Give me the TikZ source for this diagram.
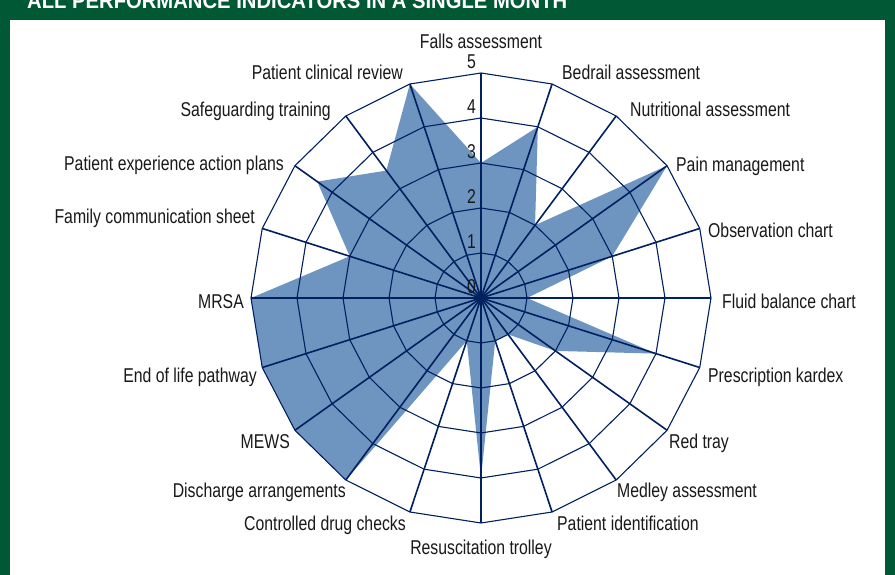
\documentclass[tikz,border=0pt]{standalone}
\usepackage{fontspec}
\setmainfont{Liberation Sans}[FakeStretch=0.79]
\newfontfamily\titlefont{Liberation Sans}[FakeStretch=0.92]
\definecolor{navy}{RGB}{0,32,96}
\definecolor{radarblue}{RGB}{110,148,192}
\definecolor{hdrgreen}{RGB}{0,88,52}
\definecolor{txtgrey}{RGB}{25,25,25}

\begin{document}
\begin{tikzpicture}[x=1pt,y=1pt,
  spoke/.style={navy,line width=1.6pt},
  ring/.style={navy,line width=1.1pt,line join=round},
  lab/.style={inner sep=0pt,text=txtgrey,font=\fontsize{20}{24}\selectfont},
  num/.style={lab,anchor=south east}]
\useasboundingbox (-481,-277) rectangle (414,298);
\fill[white] (-481,-277) rectangle (414,298);
\fill[hdrgreen] (-481,278) rectangle (414,298);
\fill[hdrgreen] (-481,-277) rectangle (-471,298);
\fill[hdrgreen] (404,-277) rectangle (414,298);
\node[anchor=base west,inner sep=0pt,text=white,font=\titlefont\bfseries\fontsize{22}{26}\selectfont] (title) at (-454,289.5) {ALL PERFORMANCE INDICATORS IN A SINGLE MONTH};
\begin{scope}[x=46pt,y=45pt]
  \fill[radarblue] (90:3) \foreach \v [count=\i] in {4,2,5,3,1,4,2,1,1,4,1,5,5,5,5,3,4.4,3.5,5} {-- (90-18*\i:\v)} -- cycle;
  \foreach \k in {1,...,5}
  \draw[ring] (90:\k) \foreach \i in {1,...,19} {-- (90-18*\i:\k)} -- cycle;
  \foreach \i in {0,...,19}
  \draw[spoke] (0,0) -- (90-18*\i:5);
  \fill[navy] (0,0) circle (4.5pt);
\end{scope}
\foreach \k in {0,...,5}
\node[num] (n\k) at (-5,{45*\k+4}) {\k};
\foreach \t/\x/\y/\anc [count=\i] in {Falls assessment/0/249/base,
  Bedrail assessment/81/218/base west, Nutritional assessment/149/181/base west,
  Pain management/195/126/base west, Observation chart/227/60/base west,
  Fluid balance chart/241/-11/base west, Prescription kardex/227/-85/base west,
  Red tray/188/-151/base west, Medley assessment/136/-200/base west,
  Patient identification/76/-233/base west, Resuscitation trolley/0/-257/base,
  Controlled drug checks/-75/-233/base east, Discharge arrangements/-135/-200/base east,
  MEWS/-191/-151/base east, End of life pathway/-224/-85/base east,
  MRSA/-237/-11/base east, Family communication sheet/-226/74/base east,
  Patient experience action plans/-197/127/base east, Safeguarding training/-150/181/base east,
  Patient clinical review/-78/218/base east}
\node[lab,anchor=\anc] (lab\i) at (\x,\y) {\t};
\end{tikzpicture}
\end{document}
